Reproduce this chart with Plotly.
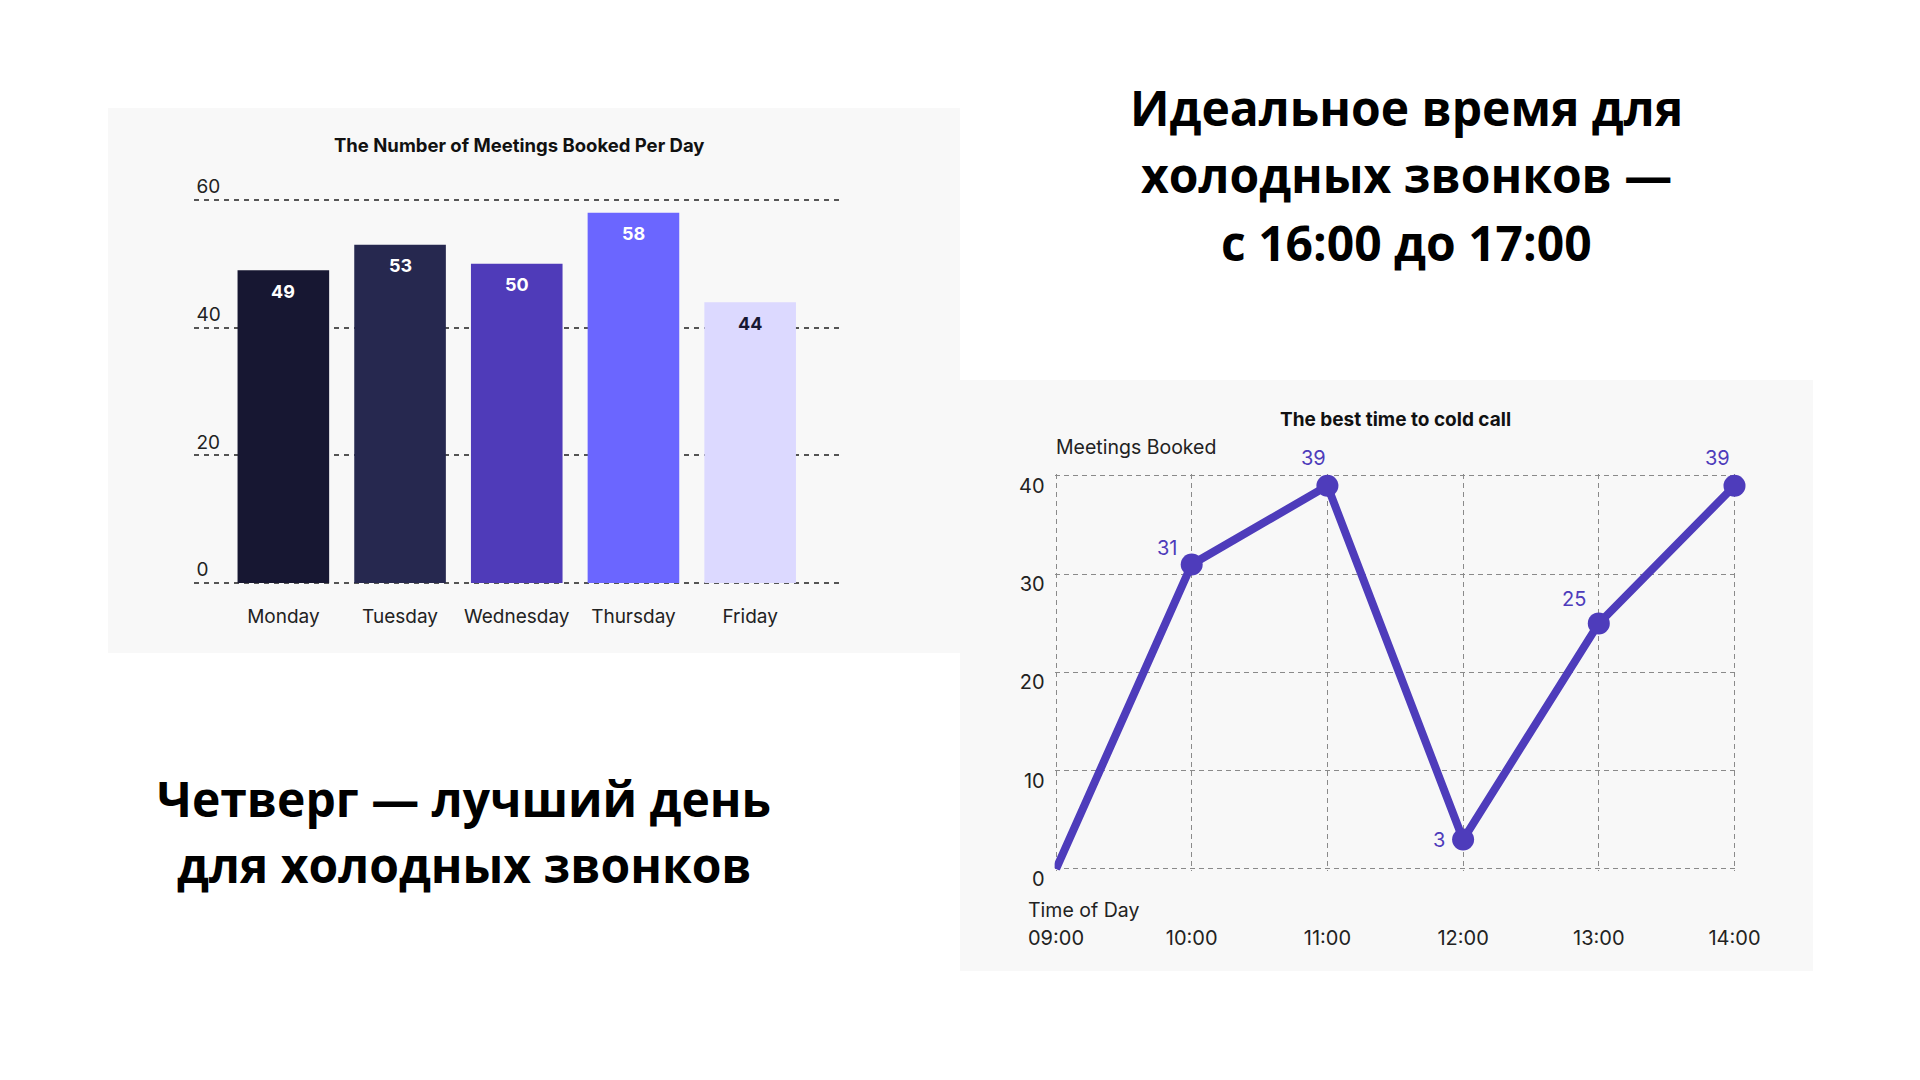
import plotly.graph_objects as go

# ---------------- data ----------------
days = ["Monday", "Tuesday", "Wednesday", "Thursday", "Friday"]
meetings_per_day = [49, 53, 50, 58, 44]
bar_colors = ["#171732", "#26284f", "#4f3bb9", "#6b66ff", "#dcd9ff"]
bar_label_colors = ["#ffffff", "#ffffff", "#ffffff", "#ffffff", "#171732"]
bar_yticks = [0, 20, 40, 60]

hours = ["09:00", "10:00", "11:00", "12:00", "13:00", "14:00"]
meetings_by_hour = [0, 31, 39, 3, 25, 39]
hour_labels = ["", "31", "39", "3", "25", "39"]
hour_marker_sizes = [0, 22, 22, 22, 22, 22]
line_yticks = [0, 10, 20, 30, 40]

heading_right = ["Идеальное время для", "холодных звонков —", "с 16:00 до 17:00"]
heading_left = ["Четверг — лучший день", "для холодных звонков"]

# label offsets (px) relative to each point -- styling only
label_dx = [0, -24, -14, -24, -25, -17]
label_dy = [0, 16, 28, 0, 24, 28]

W, H = 1920, 1080
FONT = "Inter"
LINE_COLOR = "#4e3cbb"


def px(x):
    return x / W


def py(y):
    return 1 - y / H


fig = go.Figure()

# ---------------- bar chart ----------------
fig.add_trace(go.Bar(
    x=days, y=meetings_per_day,
    marker=dict(color=bar_colors, line=dict(width=0)),
    width=0.785,
    xaxis="x", yaxis="y",
    hoverinfo="skip",
    showlegend=False,
))

# ---------------- line chart ----------------
fig.add_trace(go.Scatter(
    x=list(range(len(hours))), y=meetings_by_hour,
    mode="lines+markers",
    line=dict(color=LINE_COLOR, width=8),
    marker=dict(color=LINE_COLOR, size=hour_marker_sizes, opacity=1,
                line=dict(width=0)),
    cliponaxis=False,
    xaxis="x2", yaxis="y2",
    hoverinfo="skip",
    showlegend=False,
))

annotations = []
# bar value labels (placed via data coordinates)
for d, v, c in zip(days, meetings_per_day, bar_label_colors):
    annotations.append(dict(
        x=d, y=v, xref="x", yref="y", text=f"<b>{v}</b>",
        showarrow=False, yshift=-21,
        font=dict(family=FONT, size=18, color=c),
    ))
# line point labels
for i, (v, t) in enumerate(zip(meetings_by_hour, hour_labels)):
    if not t:
        continue
    annotations.append(dict(
        x=i, y=v, xref="x2", yref="y2", text=t,
        showarrow=False, xshift=label_dx[i], yshift=label_dy[i],
        font=dict(family=FONT, size=20, color=LINE_COLOR),
    ))

# text annotations
annotations += [
    dict(x=px(519), y=py(145), xref="paper", yref="paper",
         text="<b>The Number of Meetings Booked Per Day</b>", showarrow=False,
         font=dict(family=FONT, size=18.5, color="#111111"), xanchor="center", yanchor="middle"),
    dict(x=px(1395), y=py(419), xref="paper", yref="paper",
         text="<b>The best time to cold call</b>", showarrow=False,
         font=dict(family=FONT, size=19, color="#111111"), xanchor="center", yanchor="middle"),
    dict(x=px(1054), y=py(447), xref="paper", yref="paper",
         text="Meetings Booked", showarrow=False,
         font=dict(family=FONT, size=19.5, color="#222222"), xanchor="left", yanchor="middle"),
    dict(x=px(1026), y=py(910), xref="paper", yref="paper",
         text="Time of Day", showarrow=False,
         font=dict(family=FONT, size=19.5, color="#222222"), xanchor="left", yanchor="middle"),
]
for i, line in enumerate(heading_right):
    annotations.append(dict(
        x=px(1406), y=py(108 + 67 * i), xref="paper", yref="paper",
        text=f"<b>{line}</b>", showarrow=False,
        font=dict(family="Open Sans", size=48, color="#000000"),
        xanchor="center", yanchor="middle"))
for i, line in enumerate(heading_left):
    annotations.append(dict(
        x=px(464), y=py(798 + 66 * i), xref="paper", yref="paper",
        text=f"<b>{line}</b>", showarrow=False,
        font=dict(family="Open Sans", size=48, color="#000000"),
        xanchor="center", yanchor="middle"))

shapes = [
    dict(type="rect", xref="paper", yref="paper", x0=px(108), x1=px(960),
         y0=py(653), y1=py(108), fillcolor="#f8f8f8", line=dict(width=0), layer="below"),
    dict(type="rect", xref="paper", yref="paper", x0=px(960), x1=px(1813),
         y0=py(971), y1=py(380), fillcolor="#f8f8f8", line=dict(width=0), layer="below"),
]

# bar axes: 0 at y=583, 60 at y=200
UNIT = (583 - 200) / 60.0
# line axes: 0 at y=869, 40 at y=476 ; 09:00 at x=1056, 14:00 at x=1734.5
LUY = (869 - 476) / 40.0
LUX = (1734.5 - 1056) / 5.0
PADX = 0.01
PADY = 0.16
fig.update_layout(
    width=W, height=H,
    margin=dict(l=0, r=0, t=0, b=0, autoexpand=False),
    paper_bgcolor="#ffffff",
    plot_bgcolor="rgba(0,0,0,0)",
    annotations=annotations,
    shapes=shapes,
    xaxis=dict(
        domain=[px(193.5), px(840)],
        range=[-0.77, 4.77],
        showgrid=False, zeroline=False, showline=False,
        ticks="outside", ticklen=10, tickcolor="rgba(0,0,0,0)",
        tickfont=dict(family=FONT, size=19, color="#222222"),
        anchor="y", fixedrange=True, automargin=False,
    ),
    yaxis=dict(
        domain=[py(583 + UNIT), py(200 - 5 * UNIT)],
        range=[-1, 65],
        tickvals=bar_yticks,
        showgrid=True, gridcolor="#555555", gridwidth=1.5, griddash="5px,5px",
        zeroline=False, showline=False,
        ticklabelposition="inside top",
        tickfont=dict(family=FONT, size=19, color="#222222"),
        anchor="x", fixedrange=True, automargin=False,
    ),
    xaxis2=dict(
        domain=[px(1056 - PADX * LUX), px(1734.5 + PADX * LUX)],
        range=[-PADX, 5 + PADX],
        tickvals=list(range(len(hours))), ticktext=hours,
        showgrid=True, gridcolor="#8a8a8a", gridwidth=1.2, griddash="5px,4px",
        zeroline=False, showline=False,
        ticks="outside", ticklen=49, tickcolor="rgba(0,0,0,0)",
        tickfont=dict(family=FONT, size=20, color="#222222"),
        anchor="y2", fixedrange=True, automargin=False,
    ),
    yaxis2=dict(
        domain=[py(869 + PADY * LUY), py(476 - PADY * LUY)],
        range=[-PADY, 40 + PADY],
        tickvals=line_yticks,
        showgrid=True, gridcolor="#8a8a8a", gridwidth=1.2, griddash="5px,4px",
        zeroline=False, showline=False,
        ticks="outside", ticklen=5, tickcolor="rgba(0,0,0,0)",
        ticklabelshift=10,
        tickfont=dict(family=FONT, size=20, color="#222222"),
        anchor="x2", fixedrange=True, automargin=False,
    ),
)

fig.write_html("out.html", config={"displayModeBar": False})
